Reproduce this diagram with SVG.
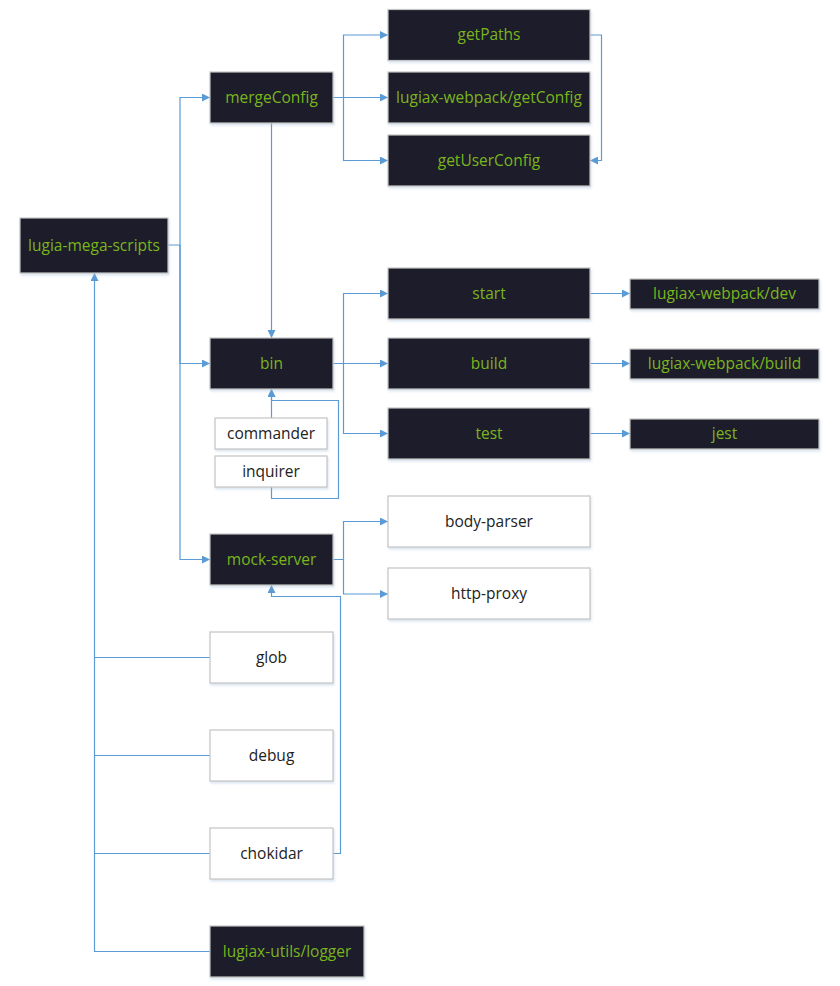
<svg xmlns="http://www.w3.org/2000/svg" width="840" height="986" viewBox="0 0 840 986">
<defs>
<marker id="arr" viewBox="0 0 10 10" refX="10" refY="5" markerWidth="8" markerHeight="8" markerUnits="userSpaceOnUse" orient="auto">
<path d="M0,0 L10,5 L0,10 z" fill="#5b9bd5"/>
</marker>
<filter id="sh" x="-10%" y="-10%" width="120%" height="130%">
<feDropShadow dx="1" dy="2" stdDeviation="1.2" flood-color="#9bb7d4" flood-opacity="0.35"/>
</filter>
</defs>
<style>
.d rect{fill:#1c1e29;stroke:#c4c4c4;stroke-width:1.2;filter:url(#sh)}
.w rect{fill:#ffffff;stroke:#c4c4c4;stroke-width:1.2;filter:url(#sh)}
text{font-family:"Open Sans","Noto Sans","DejaVu Sans",sans-serif;font-size:15.5px;text-anchor:middle;dominant-baseline:central}
.d text{fill:#7ab51d}
.w text{fill:#222222}
.c path{fill:none;stroke:#5b9bd5;stroke-width:1.2}
.c .a{marker-end:url(#arr)}
</style>
<rect width="840" height="986" fill="#ffffff"/>
<g id="connectors" class="c">
<path class="a" d="M168,245 H180 V97.5 H210"/>
<path class="a" d="M180,245 V363.5 H210"/>
<path class="a" d="M180,245 V559.5 H210"/>
<path class="a" d="M333,97.5 H343.5 V35 H388"/>
<path class="a" d="M343.5,97.5 H388"/>
<path class="a" d="M343.5,97.5 V160.5 H388"/>
<path class="a" d="M590,35 H601.5 V160.5 H590"/>
<path class="a" d="M271.5,123 V338"/>
<path class="a" d="M333,363.5 H343.5 V293.5 H388"/>
<path class="a" d="M343.5,363.5 H388"/>
<path class="a" d="M343.5,363.5 V433.5 H388"/>
<path class="a" d="M590,293.5 H630"/>
<path class="a" d="M590,363.5 H630"/>
<path class="a" d="M590,433.5 H630"/>
<path class="a" d="M271.5,418 V389"/>
<path class="a" d="M271.5,487 V498.5 H338.5 V400.5 H271.5 V389"/>
<path class="a" d="M333,559.5 H343.5 V521.5 H388"/>
<path class="a" d="M343.5,559.5 V594 H388"/>
<path class="a" d="M333,853.5 H340.5 V596.5 H271.5 V585"/>
<path class="a" d="M210,657.5 H94.5 V273"/>
<path d="M210,755.5 H94.5"/>
<path d="M210,853.5 H94.5"/>
<path d="M210,951.5 H94.5 V657.5"/>
</g>
<g id="lugia-mega-scripts" class="d"><rect x="20" y="218" width="148" height="55"/><text x="94" y="244.5">lugia-mega-scripts</text></g>
<g id="mergeConfig" class="d"><rect x="210" y="72" width="123" height="51"/><text x="271.5" y="96.5">mergeConfig</text></g>
<g id="getPaths" class="d"><rect x="388" y="9.5" width="202" height="51"/><text x="489" y="34">getPaths</text></g>
<g id="getConfig" class="d"><rect x="388" y="72" width="202" height="51"/><text x="489" y="96.5">lugiax-webpack/getConfig</text></g>
<g id="getUserConfig" class="d"><rect x="388" y="135" width="202" height="51"/><text x="489" y="159.5">getUserConfig</text></g>
<g id="bin" class="d"><rect x="210" y="338" width="123" height="51"/><text x="271.5" y="362.5">bin</text></g>
<g id="start" class="d"><rect x="388" y="268" width="202" height="51"/><text x="489" y="292.5">start</text></g>
<g id="build" class="d"><rect x="388" y="338" width="202" height="51"/><text x="489" y="362.5">build</text></g>
<g id="test" class="d"><rect x="388" y="408" width="202" height="51"/><text x="489" y="432.5">test</text></g>
<g id="webpack-dev" class="d"><rect x="630" y="279" width="189" height="30"/><text x="724.5" y="293">lugiax-webpack/dev</text></g>
<g id="webpack-build" class="d"><rect x="630" y="349" width="189" height="30"/><text x="724.5" y="363">lugiax-webpack/build</text></g>
<g id="jest" class="d"><rect x="630" y="419" width="189" height="30"/><text x="724.5" y="433">jest</text></g>
<g id="commander" class="w"><rect x="215" y="418" width="112" height="31"/><text x="271" y="432.5">commander</text></g>
<g id="inquirer" class="w"><rect x="215" y="456" width="112" height="31"/><text x="271" y="470.5">inquirer</text></g>
<g id="mock-server" class="d"><rect x="210" y="534" width="123" height="51"/><text x="271.5" y="558.5">mock-server</text></g>
<g id="body-parser" class="w"><rect x="388" y="496" width="202" height="51"/><text x="489" y="520.5">body-parser</text></g>
<g id="http-proxy" class="w"><rect x="388" y="568" width="202" height="51"/><text x="489" y="592.5">http-proxy</text></g>
<g id="glob" class="w"><rect x="210" y="632" width="123" height="51"/><text x="271.5" y="656.5">glob</text></g>
<g id="debug" class="w"><rect x="210" y="730" width="123" height="51"/><text x="271.5" y="754.5">debug</text></g>
<g id="chokidar" class="w"><rect x="210" y="828" width="123" height="51"/><text x="271.5" y="852.5">chokidar</text></g>
<g id="logger" class="d"><rect x="210" y="926" width="154" height="51"/><text x="287" y="950.5">lugiax-utils/logger</text></g>
</svg>
